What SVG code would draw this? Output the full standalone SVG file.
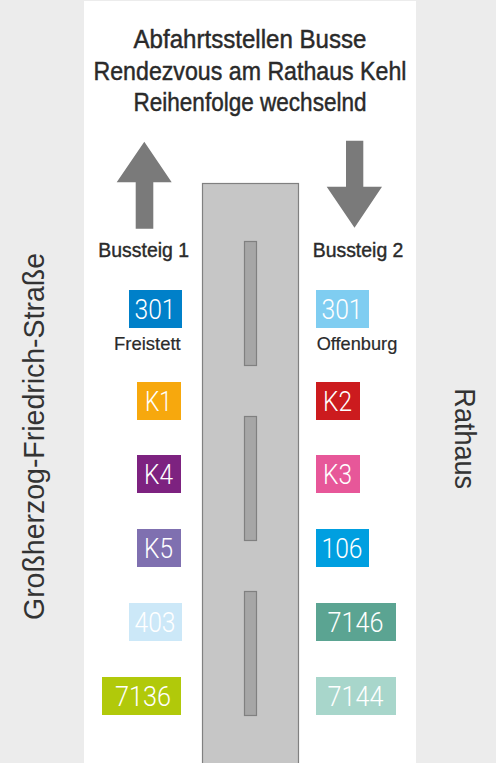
<svg xmlns="http://www.w3.org/2000/svg" width="496" height="763" viewBox="0 0 496 763">
<style>
.lbl{font-family:"Liberation Sans",Arial,sans-serif;fill:#2a2a2a}
.title{font-size:25.5px;stroke:#2a2a2a;stroke-width:0.45px}
.bs{font-size:20px;stroke:#2a2a2a;stroke-width:0.4px}
.dest{font-size:18.5px;stroke:#2a2a2a;stroke-width:0.2px}
.street{font-size:30px;fill:#333}
.badge text{font-family:Roboto,"Liberation Sans",sans-serif;font-weight:300;font-size:27px;fill:#fff;text-anchor:middle}
.arrow{fill:#7a7a7a}
</style>
<rect x="0" y="0" width="496" height="763" fill="#ececec"/>
<rect x="84" y="1" width="332" height="762" fill="#ffffff"/>
<g id="road">
<rect x="202.5" y="183.5" width="96" height="590" fill="#c6c6c6" stroke="#808080" stroke-width="1.2"/>
<rect x="244.5" y="241.5" width="12" height="124" fill="#a6a6a6" stroke="#808080" stroke-width="1.2"/>
<rect x="244.5" y="416.5" width="12" height="124" fill="#a6a6a6" stroke="#808080" stroke-width="1.2"/>
<rect x="244.5" y="591.5" width="12" height="124" fill="#a6a6a6" stroke="#808080" stroke-width="1.2"/>
</g>
<g id="title" class="lbl title" text-anchor="middle">
<text x="250" y="48" textLength="233" lengthAdjust="spacingAndGlyphs">Abfahrtsstellen Busse</text>
<text x="250" y="80" textLength="313" lengthAdjust="spacingAndGlyphs">Rendezvous am Rathaus Kehl</text>
<text x="250" y="111" textLength="233" lengthAdjust="spacingAndGlyphs">Reihenfolge wechselnd</text>
</g>
<g id="arrow-up"><polygon class="arrow" points="144.3,141.7 171.7,182.3 153.3,182.3 153.3,228.7 135.7,228.7 135.7,182.3 116.7,182.3"/></g>
<g id="arrow-down"><polygon class="arrow" points="346,140.7 363.3,140.7 363.3,186.7 382,186.7 354.5,227.7 326.7,186.7 346,186.7"/></g>
<g id="bussteig1"><text class="lbl bs" x="98.3" y="256.7" textLength="90.7" lengthAdjust="spacingAndGlyphs">Bussteig 1</text></g>
<g id="bussteig2"><text class="lbl bs" x="312.7" y="256.7" textLength="90.7" lengthAdjust="spacingAndGlyphs">Bussteig 2</text></g>
<g id="b301l" class="badge"><rect x="129" y="290" width="53" height="38" fill="#0080c9"/><text x="155" y="318.5" textLength="41" lengthAdjust="spacingAndGlyphs">301</text></g>
<g id="freistett"><text class="lbl dest" x="114" y="350" textLength="66.7" lengthAdjust="spacingAndGlyphs">Freistett</text></g>
<g id="b301r" class="badge"><rect x="316" y="290" width="53" height="38" fill="#7fcdf1"/><text x="342" y="318.5" textLength="41" lengthAdjust="spacingAndGlyphs">301</text></g>
<g id="offenburg"><text class="lbl dest" x="316.7" y="350" textLength="80.6" lengthAdjust="spacingAndGlyphs">Offenburg</text></g>
<g id="bK1" class="badge"><rect x="137" y="382" width="44" height="38" fill="#f7a80d"/><text x="158.5" y="410.5" textLength="27" lengthAdjust="spacingAndGlyphs">K1</text></g>
<g id="bK2" class="badge"><rect x="316" y="382" width="44" height="38" fill="#cc1b1e"/><text x="337.5" y="410.5" textLength="29" lengthAdjust="spacingAndGlyphs">K2</text></g>
<g id="bK4" class="badge"><rect x="137" y="455" width="44" height="38" fill="#7d2280"/><text x="158.5" y="483.5" textLength="29" lengthAdjust="spacingAndGlyphs">K4</text></g>
<g id="bK3" class="badge"><rect x="316" y="455" width="44" height="38" fill="#e75799"/><text x="337.5" y="483.5" textLength="29" lengthAdjust="spacingAndGlyphs">K3</text></g>
<g id="bK5" class="badge"><rect x="137" y="529" width="44" height="38" fill="#7f70b0"/><text x="158.5" y="557.5" textLength="29" lengthAdjust="spacingAndGlyphs">K5</text></g>
<g id="b106" class="badge"><rect x="316" y="529" width="53" height="38" fill="#009fe0"/><text x="342" y="557.5" textLength="41" lengthAdjust="spacingAndGlyphs">106</text></g>
<g id="b403" class="badge"><rect x="129" y="603" width="53" height="38" fill="#cce8f8"/><text x="155" y="631.5" textLength="41" lengthAdjust="spacingAndGlyphs">403</text></g>
<g id="b7146" class="badge"><rect x="316" y="603" width="80" height="38" fill="#5ba492"/><text x="355.5" y="631.5" textLength="56" lengthAdjust="spacingAndGlyphs">7146</text></g>
<g id="b7136" class="badge"><rect x="102" y="677" width="79" height="38" fill="#b1c90a"/><text x="143" y="705.5" textLength="56" lengthAdjust="spacingAndGlyphs">7136</text></g>
<g id="b7144" class="badge"><rect x="316" y="677" width="80" height="38" fill="#a8d6cb"/><text x="355.5" y="705.5" textLength="56" lengthAdjust="spacingAndGlyphs">7144</text></g>
<g id="street"><text class="lbl street" transform="translate(43.5,436.5) rotate(-90)" text-anchor="middle" textLength="367" lengthAdjust="spacingAndGlyphs">Großherzog-Friedrich-Straße</text></g>
<g id="rathaus"><text class="lbl street" transform="translate(455,438.7) rotate(90)" text-anchor="middle" textLength="100.7" lengthAdjust="spacingAndGlyphs">Rathaus</text></g>
</svg>
